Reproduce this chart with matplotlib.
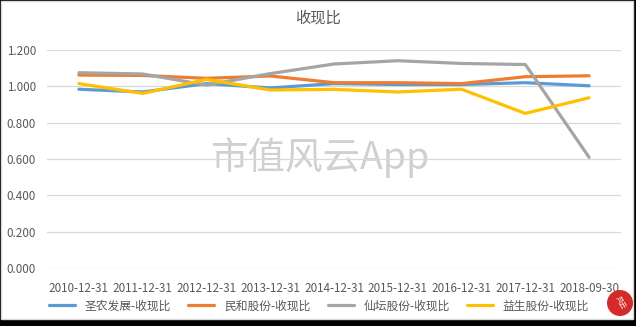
import matplotlib
matplotlib.use("Agg")
import matplotlib.pyplot as plt
from matplotlib.patches import Rectangle, Ellipse

plt.rcParams['font.family'] = ['Noto Sans CJK SC', 'DejaVu Sans']

# 数据
dates = ['2010-12-31', '2011-12-31', '2012-12-31', '2013-12-31', '2014-12-31',
         '2015-12-31', '2016-12-31', '2017-12-31', '2018-09-30']
shengnong = [0.984, 0.969, 1.015, 0.991, 1.015, 1.010, 1.010, 1.020, 1.003]
minhe = [1.062, 1.060, 1.044, 1.057, 1.020, 1.020, 1.015, 1.053, 1.058]
xiantan = [1.075, 1.068, 1.007, 1.070, 1.123, 1.141, 1.126, 1.120, 0.609]
yisheng = [1.015, 0.961, 1.038, 0.980, 0.983, 0.969, 0.984, 0.851, 0.937]

names = ['圣农发展-收现比', '民和股份-收现比', '仙坛股份-收现比', '益生股份-收现比']
colors = ['#5B9BD5', '#ED7D31', '#A5A5A5', '#FFC000']
yticks = [0.0, 0.2, 0.4, 0.6, 0.8, 1.0, 1.2]

W, H = 636, 326
fig = plt.figure(figsize=(W / 100, H / 100), dpi=100)
fig.patch.set_facecolor('black')
# 白色底板 + 浅灰边框
fig.patches.append(Rectangle((1 / W, 7 / H), 632 / W, 318 / H, transform=fig.transFigure,
                             facecolor='white', edgecolor='#d9d9d9', lw=1, zorder=-5))

ax = fig.add_axes([47 / W, 1 - 268 / H, 574 / W, 218 / H])
ax.set_facecolor('none')
ax.set_zorder(2)

x = range(len(dates))
for vals, name, c in zip([shengnong, minhe, xiantan, yisheng], names, colors):
    ax.plot(x, vals, color=c, lw=2.3, label=name, solid_capstyle='round', zorder=3)

ax.set_ylim(0, 1.2)
ax.set_xlim(-0.5, len(dates) - 0.5)
ax.set_yticks(yticks)
ax.set_yticklabels(['%.3f' % v for v in yticks])
ax.set_xticks(list(x))
ax.set_xticklabels(dates)
ax.tick_params(length=0, labelsize=8.4, colors='#595959')
ax.tick_params(axis='x', pad=10)
ax.tick_params(axis='y', pad=8)
ax.grid(axis='y', color='#d9d9d9', lw=0.9)
for s in ax.spines.values():
    s.set_visible(False)
ax.set_axisbelow(True)

fig.text(318 / W, 1 - 18 / H, '收现比', ha='center', va='center', fontsize=11, color='#595959')

# 水印
fig.text(320 / W, 1 - 158 / H, '市值风云App', ha='center', va='center', fontsize=27,
         color='#d0d0d0', zorder=1)

fig.legend(loc='center', bbox_to_anchor=(319 / W, 1 - 306 / H), ncol=4, frameon=False,
           fontsize=8.5, handlelength=2.2, columnspacing=1.5, handletextpad=0.8,
           labelcolor='#595959')

# 右下角红色标志
fig.patches.append(Ellipse((620 / W, 1 - 303 / H), 26 / W, 26 / H, transform=fig.transFigure,
                           facecolor='#d42a2a', edgecolor='none', zorder=5))
fig.text(620 / W, 1 - 303 / H, '风云', ha='center', va='center', fontsize=5,
         color='white', rotation=-60, zorder=6)

fig.savefig('out.png', dpi=100, facecolor=fig.get_facecolor())
